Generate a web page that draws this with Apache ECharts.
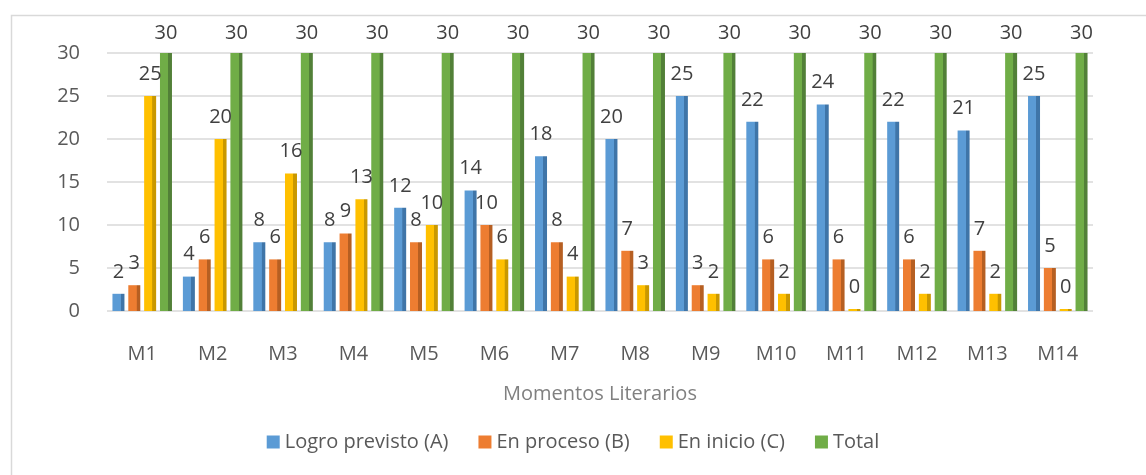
<!DOCTYPE html>
<html>
<head>
<meta charset="utf-8">
<script src="https://cdn.jsdelivr.net/npm/echarts@6/dist/echarts.min.js"></script>
<style>
html,body{margin:0;padding:0;background:#fff;}
#chart{width:1146px;height:475px;}
</style>
</head>
<body>
<div id="chart"></div>
<script>
const categories = ['M1','M2','M3','M4','M5','M6','M7','M8','M9','M10','M11','M12','M13','M14'];
const logroPrevisto = [2,4,8,8,12,14,18,20,25,22,24,22,21,25];
const enProceso = [3,6,6,9,8,10,8,7,3,6,6,6,7,5];
const enInicio = [25,20,16,13,10,6,4,3,2,2,0,2,2,0];
const total = [30,30,30,30,30,30,30,30,30,30,30,30,30,30];
const seriesNames = ['Logro previsto (A)','En proceso (B)','En inicio (C)','Total'];
const yTicks = [0,5,10,15,20,25,30];

const FONT = '"Open Sans", "Noto Sans", sans-serif';
const colors = ['#5b9bd5','#ed7d31','#ffc000','#70ad47'];
const darks = ['#3f75a8','#b65f22','#c99800','#528038'];

function grad(i){
  return new echarts.graphic.LinearGradient(0,0,1,0,[
    {offset:0,color:colors[i]},{offset:0.68,color:colors[i]},
    {offset:0.7,color:darks[i]},{offset:1,color:darks[i]}
  ]);
}

const dataSets = [logroPrevisto, enProceso, enInicio, total];
const chart = echarts.init(document.getElementById('chart'));
chart.setOption({
  animation:false,
  color: colors,
  textStyle:{fontFamily:FONT},
  graphic:[{type:'rect',left:9,top:13,shape:{width:1160,height:480},style:{fill:'none',stroke:'#d9d9d9',lineWidth:1.5},silent:true,z:-1}],
  grid:{left:107,right:53,top:53,bottom:164},
  legend:{
    data: seriesNames.map((n,i)=>({name:n,itemStyle:{color:colors[i]}})),
    bottom:18,left:'center',icon:'rect',itemWidth:13,itemHeight:13,itemGap:30,
    textStyle:{fontFamily:FONT,fontSize:20,color:'#595959'}
  },
  xAxis:{
    type:'category',data:categories,
    axisLine:{show:false},axisTick:{show:false},
    axisLabel:{margin:33,fontSize:20,color:'#595959',fontFamily:FONT},
    name:'Momentos Literarios',nameLocation:'middle',nameGap:73,
    nameTextStyle:{fontSize:20,color:'#808080',fontFamily:FONT}
  },
  yAxis:{
    type:'value',min:0,max:30,interval:5,
    axisLine:{show:false},axisTick:{show:false},
    axisLabel:{margin:27,fontSize:20,color:'#595959',fontFamily:FONT},
    splitLine:{lineStyle:{color:'#d9d9d9',width:1.5}}
  },
  series: dataSets.map((d,i)=>({
    name:seriesNames[i],type:'bar',data:d,
    barWidth:12,barGap:'32%',barCategoryGap:'14%',
    barMinHeight: i===2 ? 2 : 0,
    itemStyle:{color:grad(i)},
    label:{show:true,position:'top',distance:i===3?10:12,fontSize:20,color:'#404040',fontFamily:FONT}
  }))
});
</script>
</body>
</html>
